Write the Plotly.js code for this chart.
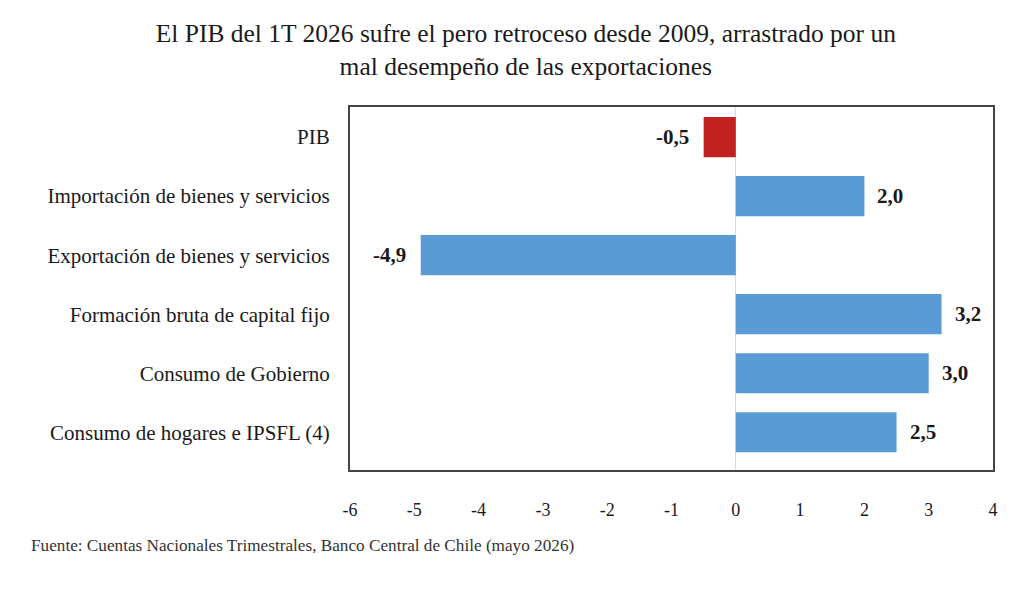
<!DOCTYPE html>
<html><head><meta charset="utf-8">
<script src="https://cdn.plot.ly/plotly-3.0.1.min.js"></script>
<style>html,body{margin:0;padding:0;background:#fff}</style>
</head><body>
<div id="chart" style="width:1033px;height:592px"></div>
<script>
const categories = ["Consumo de hogares e IPSFL (4)", "Consumo de Gobierno", "Formación bruta de capital fijo", "Exportación de bienes y servicios", "Importación de bienes y servicios", "PIB"];
const values = [2.5, 3.0, 3.2, -4.9, 2.0, -0.5];
const barColors = ["#5B9BD5", "#5B9BD5", "#5B9BD5", "#5B9BD5", "#5B9BD5", "#C0231F"];
const xTicks = [-6, -5, -4, -3, -2, -1, 0, 1, 2, 3, 4];
const titleText = "El PIB del 1T 2026 sufre el pero retroceso desde 2009, arrastrado por un<br>mal desempeño de las exportaciones";
const sourceText = "Fuente: Cuentas Nacionales Trimestrales, Banco Central de Chile (mayo 2026)";

const serif = "Liberation Serif, Times New Roman, serif";
const fmt = v => v.toFixed(1).replace('.', ',');

const trace = {
  type: 'bar', orientation: 'h',
  y: categories, x: values,
  marker: {color: barColors},
  width: 0.68,
  hoverinfo: 'skip'
};

const annotations = values.map((v, i) => ({
  x: v, y: categories[i], xref: 'x', yref: 'y',
  text: '<b>' + fmt(v) + '</b>',
  showarrow: false,
  xanchor: v >= 0 ? 'left' : 'right',
  xshift: v >= 0 ? 11 : -13,
  font: {family: serif, size: 21, color: '#1a1a1a'}
}));
annotations.push({
  text: sourceText, xref: 'paper', yref: 'paper', x: 0, y: 0,
  xanchor: 'left', yanchor: 'middle', showarrow: false,
  xshift: -321, yshift: -75,
  font: {family: serif, size: 17.2, color: '#333'}
});

const layout = {
  width: 1033, height: 592,
  paper_bgcolor: '#fff', plot_bgcolor: '#fff',
  margin: {l: 350, r: 40, t: 107, b: 122},
  title: {text: titleText, x: 0.509, xanchor: 'center', y: 0.929, yanchor: 'top',
          font: {family: serif, size: 25.5, color: '#1a1a1a'}},
  showlegend: false,
  xaxis: {
    range: [-6, 4], tickvals: xTicks, ticktext: xTicks.map(String),
    showgrid: false, zeroline: true, zerolinecolor: '#d9d9d9', zerolinewidth: 1,
    showline: true, mirror: true, linecolor: '#444', linewidth: 2,
    ticks: '', ticklabelstandoff: 22,
    tickfont: {family: serif, size: 18, color: '#1a1a1a'}, fixedrange: true
  },
  yaxis: {
    type: 'category', categoryorder: 'array', categoryarray: categories,
    range: [-0.64, 5.51],
    showgrid: false, zeroline: false,
    showline: true, mirror: true, linecolor: '#444', linewidth: 2,
    ticks: '', ticklabelstandoff: 14,
    tickfont: {family: serif, size: 21, color: '#1a1a1a'}, fixedrange: true
  },
  annotations: annotations
};

Plotly.newPlot('chart', [trace], layout, {displayModeBar: false, staticPlot: true});
</script>
</body></html>
